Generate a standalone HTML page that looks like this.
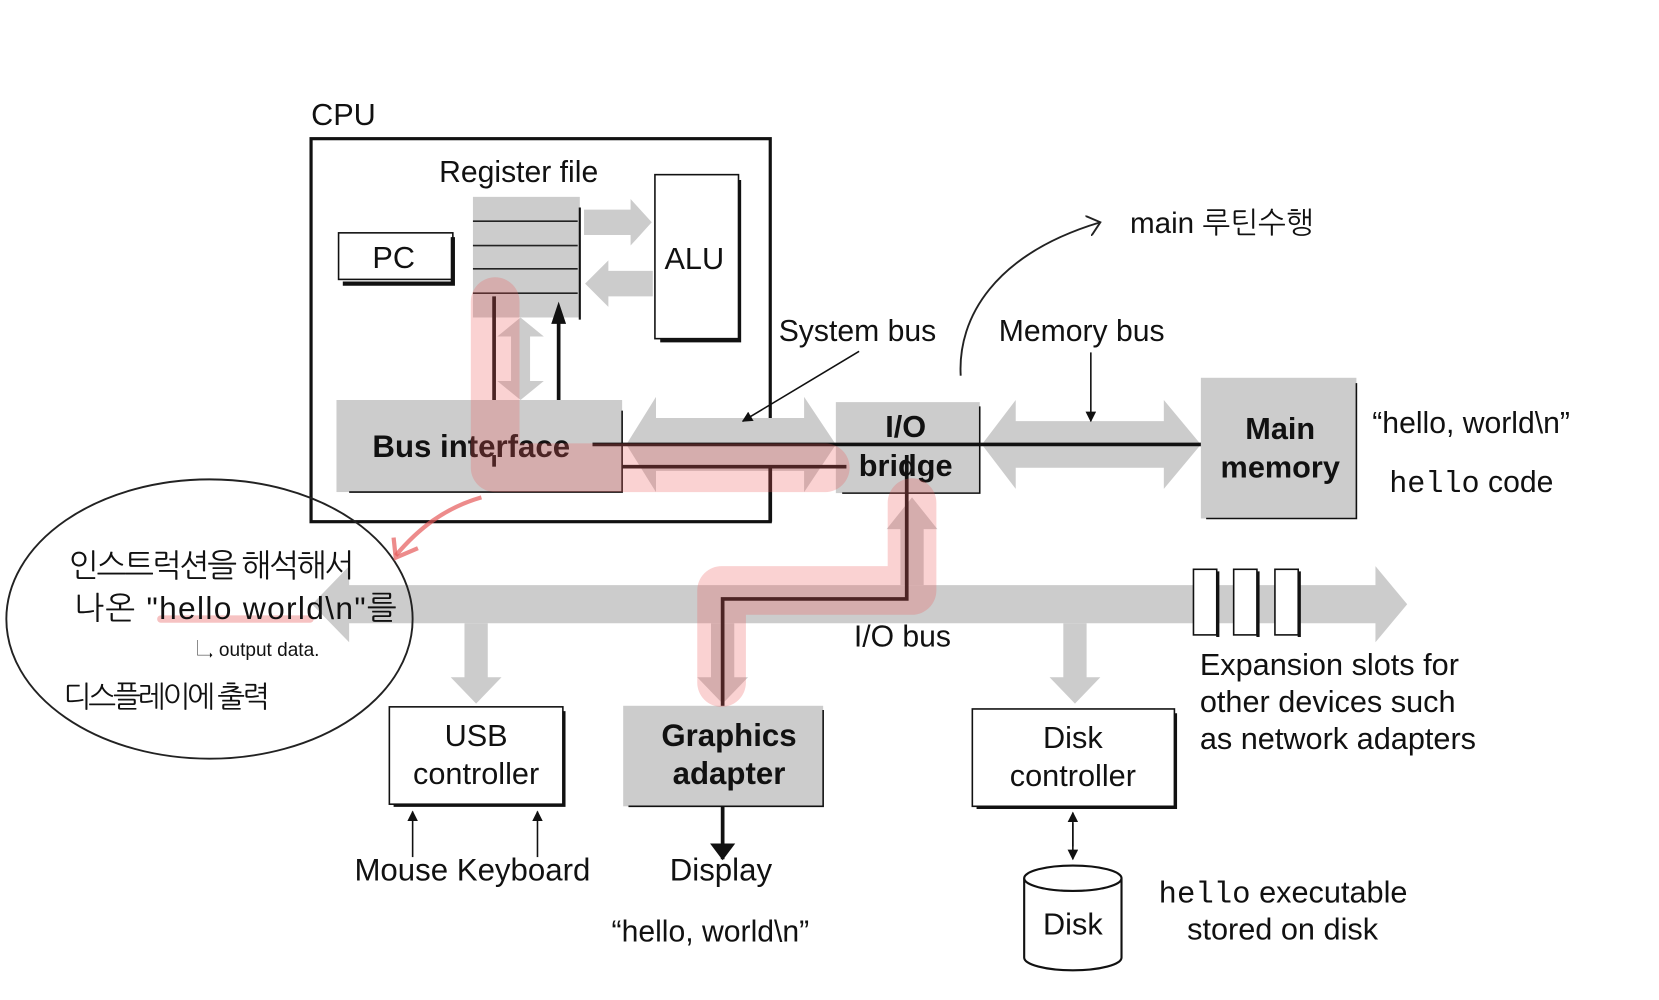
<!DOCTYPE html>
<html><head><meta charset="utf-8"><style>
html,body{margin:0;padding:0;background:#fff;}
svg{display:block;}
text{font-family:"Liberation Sans","Noto Sans CJK KR",sans-serif;fill:#111;}
.m{font-family:"Liberation Mono",monospace;}
.h{font-family:"Liberation Sans","NanumGothic","Noto Sans CJK KR",sans-serif;}
</style></head><body>
<svg width="1659" height="1000" viewBox="0 0 1568 945" xmlns="http://www.w3.org/2000/svg">
<defs>
<marker id="ah" markerWidth="10" markerHeight="10" refX="9" refY="5" orient="auto" markerUnits="userSpaceOnUse"><path d="M0,0 L10,5 L0,10 z" fill="#111"/></marker>
<marker id="ab" markerWidth="16" markerHeight="24" refX="15" refY="12" orient="auto" markerUnits="userSpaceOnUse"><path d="M0,0 L16,12 L0,24 z" fill="#111"/></marker>
<marker id="oa" markerWidth="14" markerHeight="20" refX="12" refY="10" orient="auto" markerUnits="userSpaceOnUse"><path d="M0,0 L12,10 L0,20" fill="none" stroke="#222" stroke-width="1.8"/></marker>
</defs>
<text x="294" y="118" font-size="29">CPU</text>
<rect x="294" y="131" width="434" height="362" fill="none" stroke="#111" stroke-width="3"/>
<text x="415" y="172" font-size="28.5">Register file</text>
<rect x="320" y="220" width="108" height="44" fill="#fff" stroke="#111" stroke-width="1.5"/>
<path d="M428,224 V268 H324" fill="none" stroke="#111" stroke-width="4"/>
<text x="352" y="253" font-size="29">PC</text>
<path d="M552,198 H596 V188 L616,210 L596,232 V222 H552 z" fill="#ccc"/>
<path d="M617,256 H575 V246 L553,268 L575,290 V280 H617 z" fill="#ccc"/>
<rect x="447" y="186" width="101" height="114" fill="#ccc"/>
<g stroke="#222" stroke-width="1.5"><line x1="447" y1="209" x2="546" y2="209"/><line x1="447" y1="232" x2="546" y2="232"/><line x1="447" y1="254" x2="546" y2="254"/><line x1="447" y1="277" x2="546" y2="277"/></g>
<line x1="548" y1="196" x2="548" y2="302" stroke="#111" stroke-width="2"/>
<rect x="619" y="165" width="79" height="155" fill="#fff" stroke="#111" stroke-width="1.5"/>
<path d="M699,170 V322 H624" fill="none" stroke="#111" stroke-width="3"/>
<text x="628" y="254" font-size="29">ALU</text>
<path d="M483,318 L470,318 L492,300 L514,318 L501,318 L501,360 L514,360 L492,378 L470,360 L483,360 z" fill="#ccc"/>
<path d="M620,395 L620,375 L592,420 L620,465 L620,445 L760,445 L760,465 L790,420 L760,375 L760,395 z" fill="#ccc"/>
<path d="M960,398 L960,378 L928,420 L960,462 L960,442 L1100,442 L1100,462 L1135,420 L1100,378 L1100,398 z" fill="#ccc"/>
<rect x="318" y="378" width="270" height="87" fill="#ccc"/>
<path d="M588,388 V465 H330" fill="none" stroke="#111" stroke-width="1.5"/>
<text x="352" y="432" font-size="29.5" font-weight="bold">Bus interface</text>
<rect x="790" y="380" width="136" height="86" fill="#ccc"/>
<path d="M926,384 V466 H796" fill="none" stroke="#111" stroke-width="1.5"/>
<text x="856" y="413" font-size="29" font-weight="bold" text-anchor="middle">I/O</text>
<text x="856" y="450" font-size="29" font-weight="bold" text-anchor="middle">bridge</text>
<rect x="1135" y="357" width="147" height="133" fill="#ccc"/>
<path d="M1282,362 V490 H1140" fill="none" stroke="#111" stroke-width="1.5"/>
<text x="1210" y="415" font-size="29" font-weight="bold" text-anchor="middle">Main</text>
<text x="1210" y="451" font-size="29" font-weight="bold" text-anchor="middle">memory</text>
<g stroke="#111" stroke-width="3.5" fill="none">
<line x1="467" y1="280" x2="467" y2="378"/>
<line x1="528" y1="378" x2="528" y2="300"/>
<line x1="560" y1="420" x2="1135" y2="420"/>
<line x1="467" y1="430" x2="467" y2="441"/>
<line x1="588" y1="441" x2="800" y2="441"/>
<line x1="728" y1="441" x2="728" y2="493"/>
</g>
<path d="M528,306 L521,306 L528,285 L535,306 z" fill="#111"/>
<text x="736" y="322" font-size="28.5">System bus</text>
<line x1="812" y1="332" x2="702" y2="398" stroke="#111" stroke-width="1.5" marker-end="url(#ah)"/>
<text x="944" y="322" font-size="28.5">Memory bus</text>
<line x1="1031" y1="333" x2="1031" y2="398" stroke="#111" stroke-width="1.5" marker-end="url(#ah)"/>
<text x="1297" y="409" font-size="28.5">“hello, world\n”</text>
<text x="1313" y="465" font-size="28.5"><tspan class="m">hello</tspan> code</text>
<path d="M908,355 C905,300 940,240 1040,210" fill="none" stroke="#222" stroke-width="1.8" marker-end="url(#oa)"/>
<text x="1068" y="220" font-size="28" class="h" fill="#222">main 루틴수행</text>
<path d="M330,553 L330,535 L295,571 L330,607 L330,589 L1300,589 L1300,607 L1330,571 L1300,535 L1300,553 z" fill="#ccc"/>
<path d="M851,500 L838,500 L862,470 L886,500 L873,500 L873,553 L851,553 z" fill="#ccc"/>
<path d="M439,589 L461,589 L461,640 L474,640 L450,665 L426,640 L439,640 z" fill="#ccc"/>
<path d="M1005,589 L1027,589 L1027,640 L1040,640 L1016,665 L992,640 L1005,640 z" fill="#ccc"/>
<path d="M672,589 L694,589 L694,640 L707,640 L683,665 L659,640 L672,640 z" fill="#ccc"/>
<g fill="#fff" stroke="#111" stroke-width="1.5">
<rect x="1128" y="538" width="22" height="62"/><rect x="1166" y="538" width="22" height="62"/><rect x="1205" y="538" width="22" height="62"/></g>
<g stroke="#111" stroke-width="3"><line x1="1151" y1="540" x2="1151" y2="602"/><line x1="1189" y1="540" x2="1189" y2="602"/><line x1="1228" y1="540" x2="1228" y2="602"/></g>
<text x="807" y="611" font-size="28.5">I/O bus</text>
<text x="1134" y="638" font-size="29">Expansion slots for</text>
<text x="1134" y="673" font-size="29">other devices such</text>
<text x="1134" y="708" font-size="29">as network adapters</text>
<path d="M857,430 V566 H683 V672" fill="none" stroke="#111" stroke-width="3.5"/>
<rect x="368" y="668" width="164" height="92" fill="#fff" stroke="#111" stroke-width="1.5"/>
<path d="M533,672 V761 H372" fill="none" stroke="#111" stroke-width="3"/>
<text x="450" y="705" font-size="29" text-anchor="middle">USB</text>
<text x="450" y="741" font-size="29" text-anchor="middle">controller</text>
<rect x="589" y="667" width="189" height="95" fill="#ccc"/>
<path d="M778,671 V762 H594" fill="none" stroke="#111" stroke-width="1.5"/>
<text x="689" y="705" font-size="29.5" font-weight="bold" text-anchor="middle">Graphics</text>
<text x="689" y="741" font-size="29.5" font-weight="bold" text-anchor="middle">adapter</text>
<rect x="919" y="670" width="191" height="92" fill="#fff" stroke="#111" stroke-width="1.5"/>
<path d="M1111,674 V763 H923" fill="none" stroke="#111" stroke-width="3"/>
<text x="1014" y="707" font-size="29" text-anchor="middle">Disk</text>
<text x="1014" y="743" font-size="29" text-anchor="middle">controller</text>
<line x1="390" y1="810" x2="390" y2="767" stroke="#111" stroke-width="1.5" marker-end="url(#ah)"/>
<line x1="508" y1="810" x2="508" y2="767" stroke="#111" stroke-width="1.5" marker-end="url(#ah)"/>
<text x="335" y="832" font-size="29.5">Mouse Keyboard</text>
<line x1="683" y1="762" x2="683" y2="812" stroke="#111" stroke-width="3.5" marker-end="url(#ab)"/>
<text x="633" y="832" font-size="29.5">Display</text>
<text x="578" y="890" font-size="28.5">“hello, world\n”</text>
<line x1="1014" y1="778" x2="1014" y2="812" stroke="#111" stroke-width="1.5" marker-end="url(#ah)"/>
<line x1="1014" y1="800" x2="1014" y2="768" stroke="#111" stroke-width="1.5" marker-end="url(#ah)"/>
<path d="M968,830 V905 A46,12 0 0 0 1060,905 V830" fill="#fff" stroke="#111" stroke-width="2"/>
<ellipse cx="1014" cy="830" rx="46" ry="12" fill="#fff" stroke="#111" stroke-width="2"/>
<text x="1014" y="883" font-size="29" text-anchor="middle">Disk</text>
<text x="1095" y="853" font-size="29"><tspan class="m">hello</tspan> executable</text>
<text x="1122" y="888" font-size="29">stored on disk</text>
<g fill="none" stroke="rgba(235,90,90,0.27)" stroke-width="46" stroke-linejoin="round" stroke-linecap="round">
<path d="M468,285 V442 H780"/>
<path d="M862,475 V558 H682 V645"/>
</g>
<ellipse cx="198" cy="585" rx="192" ry="132" fill="none" stroke="#222" stroke-width="1.8"/>
<path d="M455,470 C420,480 395,500 374,525" fill="none" stroke="rgba(230,90,90,0.7)" stroke-width="4"/>
<path d="M372,508 L374,527 L395,518" fill="none" stroke="rgba(230,90,90,0.7)" stroke-width="4"/>
<line x1="152" y1="585" x2="293" y2="585" stroke="rgba(235,120,120,0.45)" stroke-width="7" stroke-linecap="round"/>
<text x="65" y="545" font-size="30" class="h" fill="#222" textLength="270">인스트럭션을 해석해서</text>
<text x="70" y="585" font-size="30" class="h" fill="#222" textLength="305">나온 "hello world\n"를</text>
<text x="185" y="620" font-size="18" class="h" fill="#d33">↳ output data.</text>
<text x="60" y="668" font-size="28" class="h" fill="#222" textLength="195">디스플레이에 출력</text>
</svg>
</body></html>
